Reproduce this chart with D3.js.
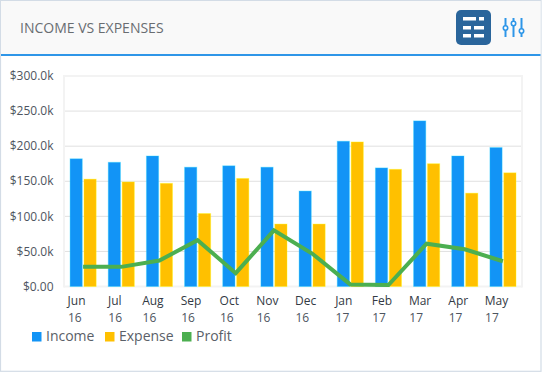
<!DOCTYPE html>
<html><head><meta charset="utf-8">
<script src="https://cdn.jsdelivr.net/npm/d3@7/dist/d3.min.js"></script>
<style>html,body{margin:0;padding:0;background:#fff}svg{display:block}text{font-family:"Open Sans",sans-serif}</style>
</head><body><svg id="c" width="542" height="372"></svg>
<script>
const months=["Jun","Jul","Aug","Sep","Oct","Nov","Dec","Jan","Feb","Mar","Apr","May"];
const years=["16","16","16","16","16","16","16","17","17","17","17","17"];
const income=[182,177,186,170,172,170,136,207,169,236,186,198];
const expense=[153,149,147,104,154,89,89,206,167,175,133,162];
const profit=[28,28,37,66,19,80,47,3,2,61,53,36];
const yTicks=[0,50,100,150,200,250,300];
const yLabels=["$0.00","$50.0k","$100.0k","$150.0k","$200.0k","$250.0k","$300.0k"];
const legendNames=["Income","Expense","Profit"];
const colors=["#1294f6","#ffc000","#4caf50"];

const svg=d3.select("#c");
// card
svg.append("rect").attr("x",0.5).attr("y",0.5).attr("width",540.5).attr("height",370.8).attr("fill","#fff").attr("stroke","#d3dce6").attr("stroke-width",1.2);
svg.append("rect").attr("x",1).attr("y",1).attr("width",539.5).attr("height",53).attr("fill","#f9f9f9");
svg.append("rect").attr("x",1).attr("y",54).attr("width",539.5).attr("height",2).attr("fill","#2e96e8");
svg.append("text").attr("x",20).attr("y",33).attr("font-size",14).attr("font-weight",500).attr("fill","#696d71").text("INCOME VS EXPENSES");

// table icon
const ic=svg.append("g");
ic.append("rect").attr("x",456).attr("y",10).attr("width",35).attr("height",35).attr("rx",5).attr("fill","#2a659b");
[[463,17,13,3.5],[479,17,5,3.5],[463,26,8,3.5],[474,26,10,3.5],[463,34,8,3.5],[474,34,10,3.5]].forEach(r=>
  ic.append("rect").attr("x",r[0]).attr("y",r[1]).attr("width",r[2]).attr("height",r[3]).attr("fill","#fff"));
// slider icon
const sl=svg.append("g").attr("stroke","#2e96e8").attr("fill","#fff");
[[505.5,28],[513.5,23.5],[521.5,31]].forEach(s=>{
  sl.append("line").attr("x1",s[0]).attr("x2",s[0]).attr("y1",18).attr("y2",37).attr("stroke-width",2);
  sl.append("circle").attr("cx",s[0]).attr("cy",s[1]).attr("r",2.2).attr("stroke-width",1.6);
});

const x=d3.scaleBand().domain(d3.range(12)).range([64,522]);
const y=d3.scaleLinear().domain([0,300]).range([286.5,76]);

const g=svg.append("g");
g.selectAll(".grid").data(yTicks).join("line")
 .attr("x1",64).attr("x2",522).attr("y1",d=>y(d)).attr("y2",d=>y(d))
 .attr("stroke",d=>(d===0||d===300)?"#f3f3f3":"#e0e0e0").attr("stroke-width",d=>(d===0||d===300)?2:1);
g.append("line").attr("x1",64).attr("x2",64).attr("y1",75).attr("y2",287.5).attr("stroke","#f3f3f3").attr("stroke-width",2);
g.append("line").attr("x1",522).attr("x2",522).attr("y1",75).attr("y2",287.5).attr("stroke","#f3f3f3").attr("stroke-width",2);

g.selectAll(".ylab").data(yTicks).join("text")
 .attr("x",53.5).attr("y",d=>y(d)+4.2).attr("text-anchor","end").attr("font-size",12).attr("fill","#4e5560")
 .text((d,i)=>yLabels[i]);

const bw=12.2;
[[income,-13,0],[expense,0.9,1]].forEach(([vals,off,ci])=>{
  g.selectAll(".b"+ci).data(vals).join("rect")
   .attr("x",(d,i)=>x(i)+x.bandwidth()/2+off).attr("width",bw)
   .attr("y",d=>y(d)).attr("height",d=>y(0)-y(d))
   .attr("fill",colors[ci]).attr("stroke",d3.color(colors[ci]).brighter(1).copy({opacity:.35})).attr("stroke-width",1);
});

const line=d3.line().x((d,i)=>x(i)+x.bandwidth()/2).y(d=>y(d));
g.append("path").datum(profit).attr("d",line).attr("fill","none").attr("stroke",colors[2]).attr("stroke-width",4).attr("stroke-linejoin","miter");

const ml=g.selectAll(".m").data(months).join("text").attr("y",305)
 .attr("font-size",12).attr("fill","#333a44").text(d=>d);
const lefts=[];
ml.each(function(d,i){lefts[i]=x(i)+x.bandwidth()/2-6.5-this.getComputedTextLength()/2;});
ml.attr("x",(d,i)=>lefts[i]);
g.selectAll(".yr").data(years).join("text").attr("x",(d,i)=>lefts[i]+0.4).attr("y",322)
 .attr("font-size",12).attr("fill","#4e5560").text(d=>d);

const lx=[32,105,182];
legendNames.forEach((n,i)=>{
  svg.append("rect").attr("x",lx[i]).attr("y",332).attr("width",9.5).attr("height",9.5).attr("fill",colors[i]);
  svg.append("text").attr("x",lx[i]+14).attr("y",341).attr("font-size",14).attr("fill","#5a6068").text(n);
});
</script></body></html>
